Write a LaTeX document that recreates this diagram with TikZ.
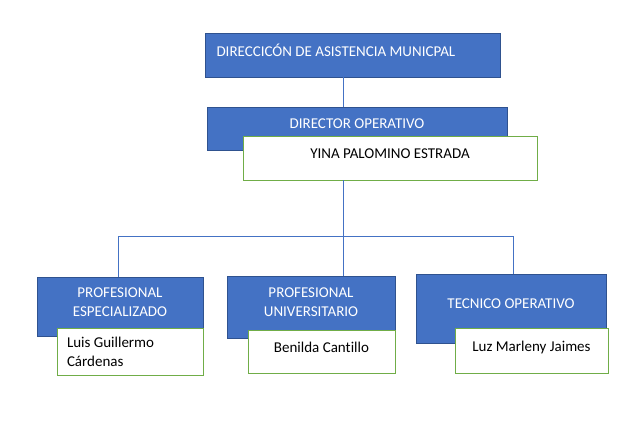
\documentclass[tikz,border=0pt]{standalone}
\usepackage{fontspec}
\setmainfont{Carlito}[Ligatures=NoCommon]
\definecolor{cargoazul}{HTML}{4472C4}
\definecolor{bordeazul}{HTML}{2F528F}
\definecolor{nombreverde}{HTML}{70AD47}
\tikzset{
  cargo/.style={draw=bordeazul, fill=cargoazul, text=white, line width=0.8pt,
    align=center, text depth=9pt, inner sep=0pt},
  nombre/.style={draw=nombreverde, fill=white, line width=0.8pt,
    align=center, inner sep=0pt},
  enlace/.style={draw=cargoazul, line width=0.7pt}
}

\begin{document}
\begin{tikzpicture}[x=1pt, y=-1pt, font=\fontsize{15}{19}\selectfont]
    \useasboundingbox (0,0) rectangle (631,434);
    % direccion y director
    \node[cargo, minimum width=295pt, minimum height=44pt, text width=273pt,
      align=flush left, inner xsep=11pt] (direccion) at (353,55)
      {DIRECCICÓN DE ASISTENCIA MUNICPAL};
    \node[cargo, minimum width=300pt, minimum height=43pt] (director) at (357,128.5)
      {DIRECTOR OPERATIVO};
    \node[nombre, minimum width=294pt, minimum height=44pt, text depth=9pt] (yina) at (390,158)
      {YINA PALOMINO ESTRADA};
    % cargos de abajo
    \node[cargo, minimum width=166pt, minimum height=59pt] (especial) at (120,306.5)
      {PROFESIONAL\\ESPECIALIZADO};
    \node[cargo, minimum width=168pt, minimum height=62pt] (univ) at (311,307)
      {PROFESIONAL\\UNIVERSITARIO};
    \node[cargo, minimum width=190pt, minimum height=69pt] (tecnico) at (511,308.5)
      {TECNICO OPERATIVO};
    \node[nombre, minimum width=146pt, minimum height=47pt, text width=126pt,
      align=flush left, inner xsep=10pt] (luis) at (130,351.5)
      {Luis Guillermo\\Cárdenas};
    \node[nombre, minimum width=147pt, minimum height=43pt, text depth=8pt] (benilda) at (321.5,351.5)
      {Benilda Cantillo};
    \node[nombre, minimum width=153pt, minimum height=45pt, text depth=8pt] (luz) at (531.5,350.5)
      {Luz Marleny Jaimes};
    % lineas
    \coordinate (eje) at (343,236);
    \coordinate (busizq) at (118,236);
    \coordinate (busder) at (513,236);
    \draw[enlace] (direccion.south -| eje) -- (director.north -| eje);
    \draw[enlace] (yina.south -| eje) -- (eje);
    \draw[enlace] (busizq) -- (busder);
    \draw[enlace] (busizq) -- (busizq |- especial.north);
    \draw[enlace] (eje) -- (eje |- univ.north);
    \draw[enlace] (busder) -- (busder |- tecnico.north);
\end{tikzpicture}
\end{document}
